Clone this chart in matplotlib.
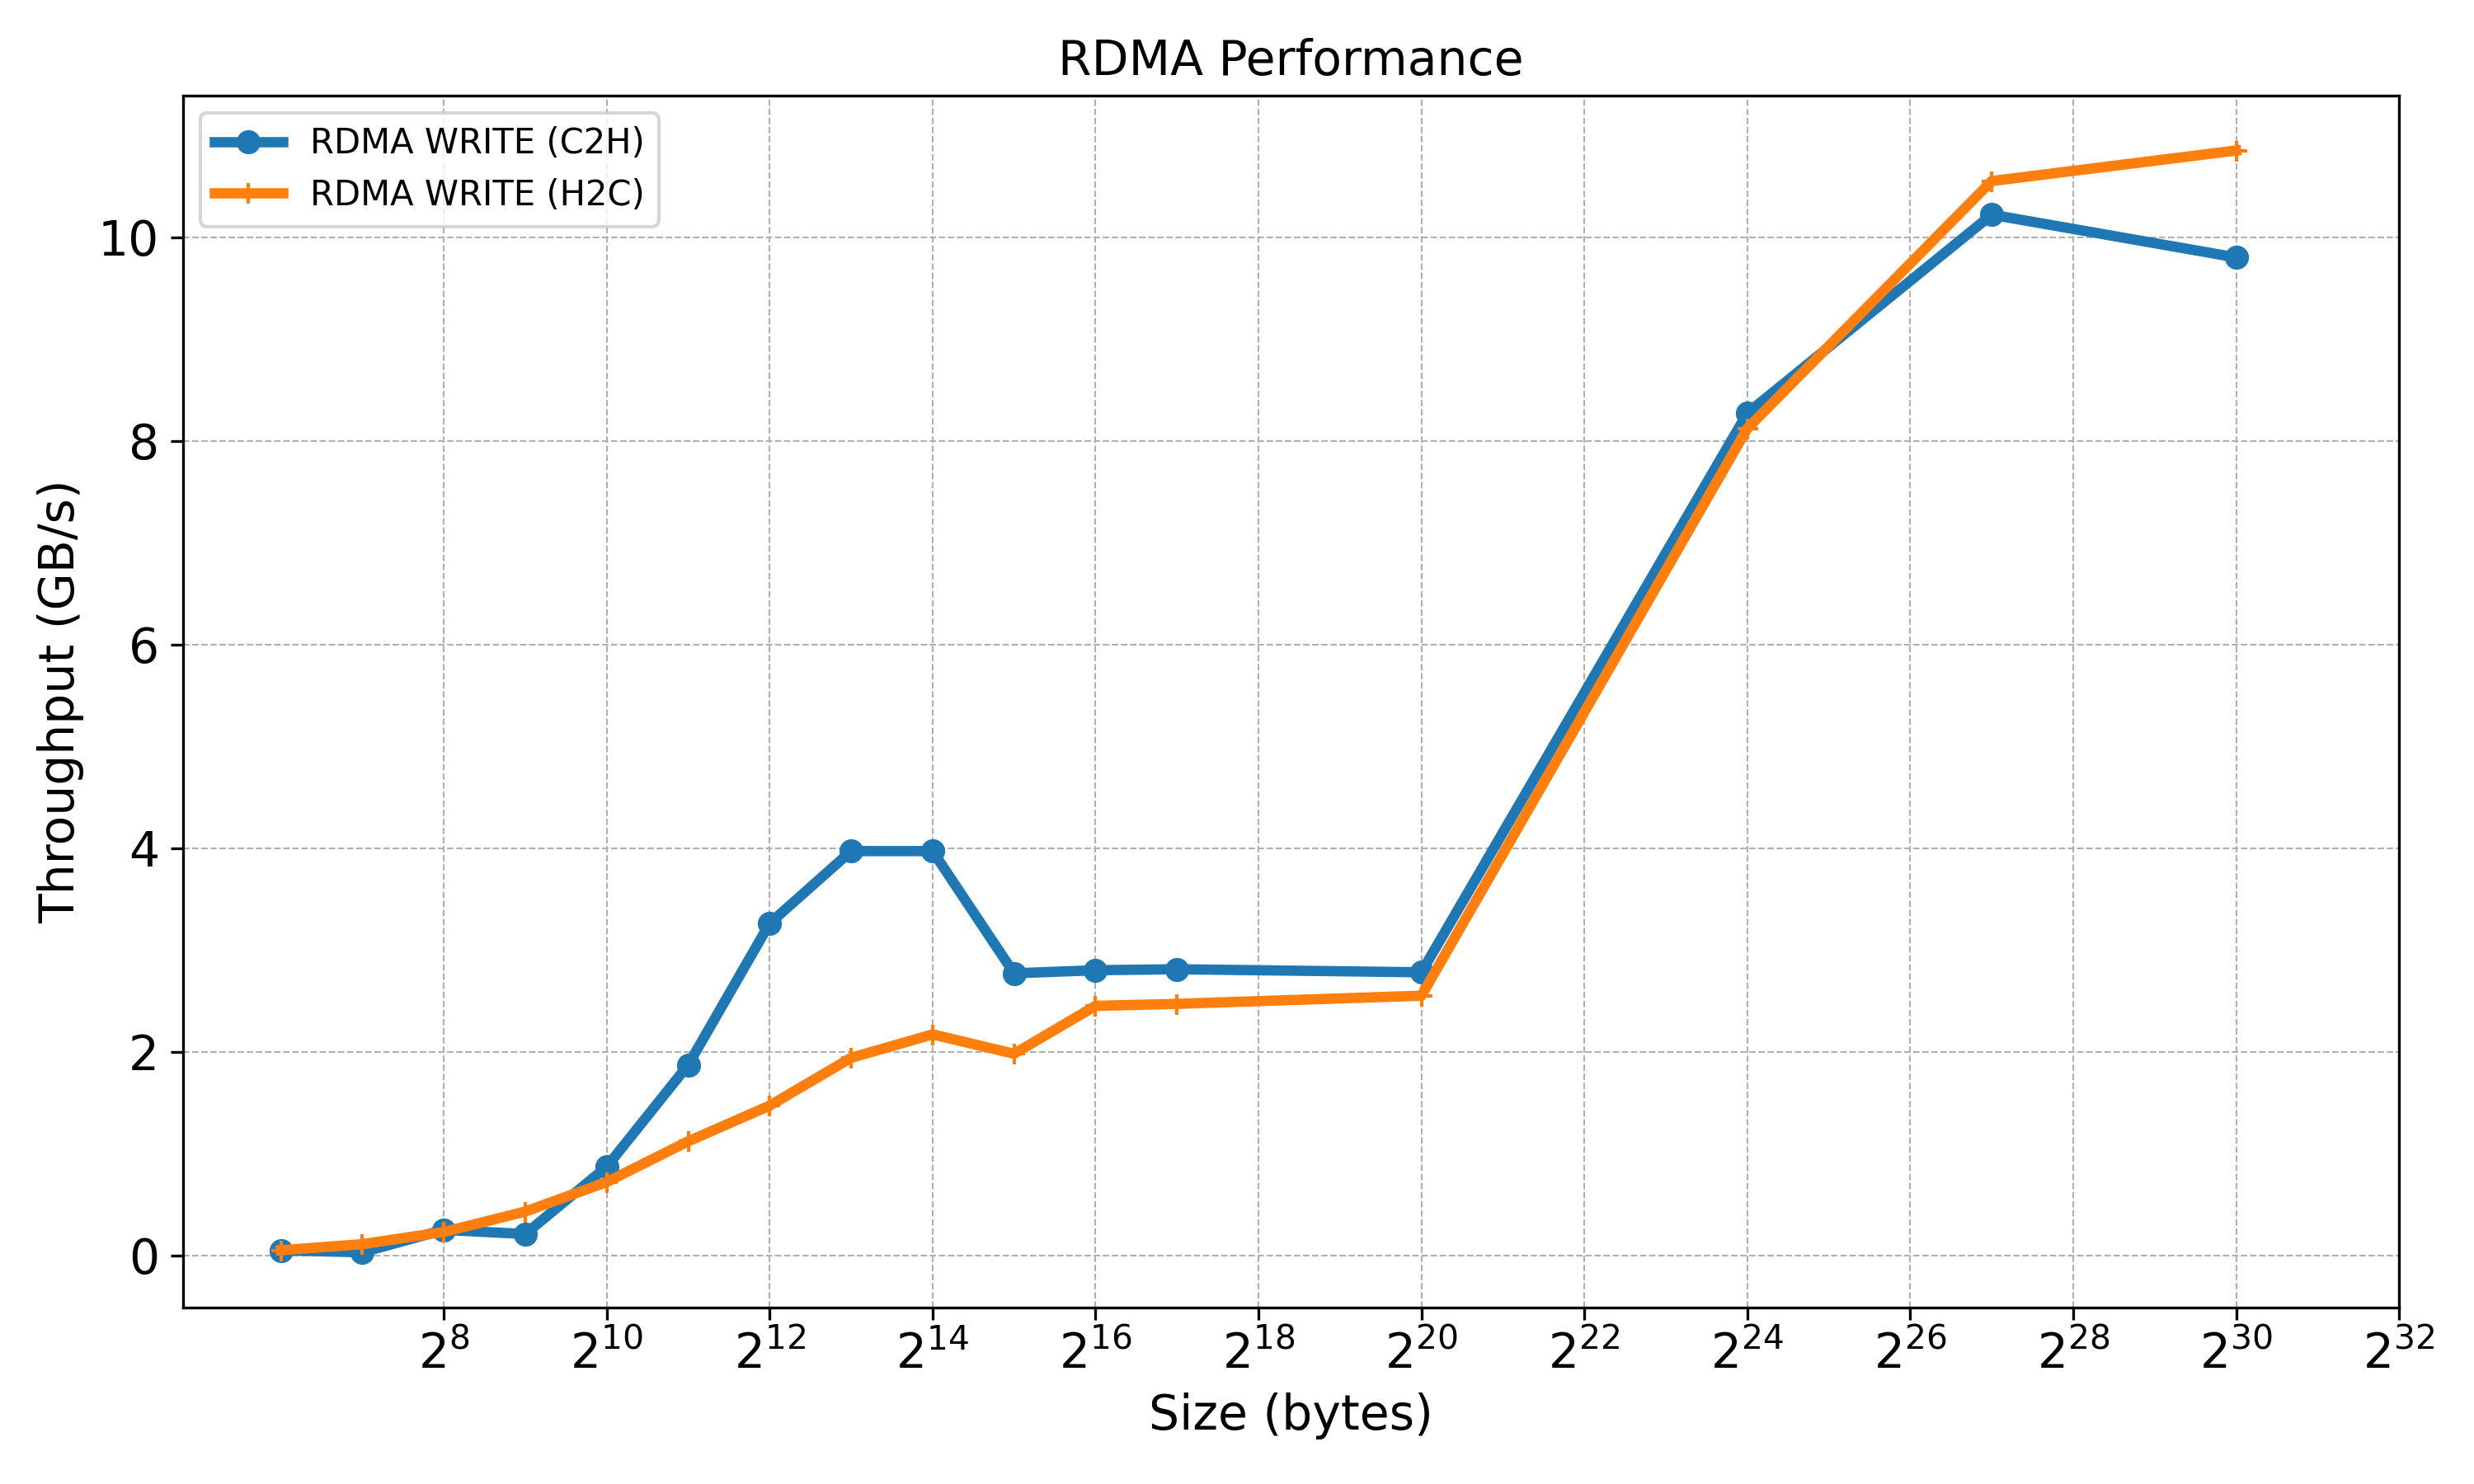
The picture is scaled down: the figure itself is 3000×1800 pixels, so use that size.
import matplotlib
matplotlib.use("Agg")
import matplotlib.pyplot as plt

sizes = [2**6, 2**7, 2**8, 2**9, 2**10, 2**11, 2**12, 2**13, 2**14,
         2**15, 2**16, 2**17, 2**20, 2**24, 2**27, 2**30]

c2h = [0.05, 0.03, 0.25, 0.21, 0.87, 1.87, 3.26, 3.97, 3.97,
       2.77, 2.80, 2.81, 2.78, 8.27, 10.22, 9.80]
h2c = [0.05, 0.11, 0.23, 0.43, 0.72, 1.12, 1.47, 1.94, 2.17,
       1.98, 2.45, 2.47, 2.55, 8.12, 10.55, 10.85]

xticks = [2**i for i in range(8, 34, 2)]

fig, ax = plt.subplots(figsize=(10, 6), dpi=300)
ax.plot(sizes, c2h, marker='o', linewidth=3, label='RDMA WRITE (C2H)')
ax.plot(sizes, h2c, marker='+', linewidth=3, label='RDMA WRITE (H2C)')
ax.set_xscale('log', base=2)
ax.set_xticks(xticks)
ax.set_xlabel('Size (bytes)', fontsize=14)
ax.set_ylabel('Throughput (GB/s)', fontsize=14)
ax.set_title('RDMA Performance', fontsize=14)
ax.tick_params(axis='both', labelsize=14)
ax.grid(True, linestyle='--', linewidth=0.5)
ax.legend(fontsize=10)

fig.subplots_adjust(left=0.074, right=0.9697, top=0.9357, bottom=0.119)
plt.savefig('out.png')
